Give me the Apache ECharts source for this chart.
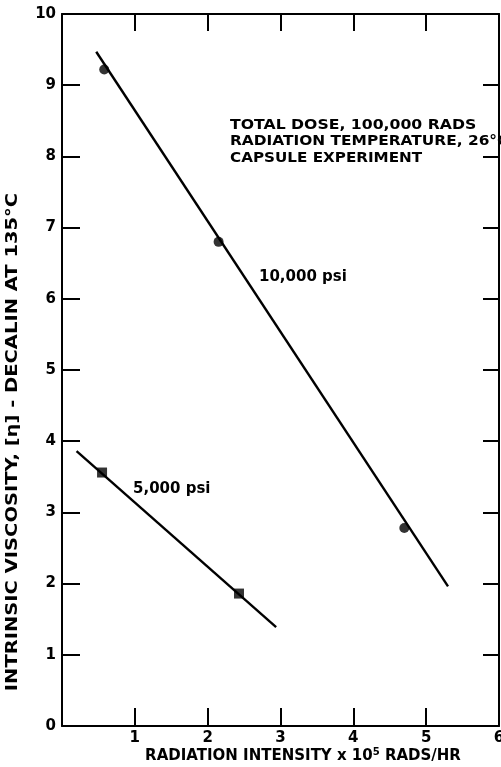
<!DOCTYPE html>
<html>
<head>
<meta charset="utf-8">
<script src="https://cdn.jsdelivr.net/npm/echarts@6/dist/echarts.min.js"></script>
<style>html,body{margin:0;padding:0;background:#fff}#c{width:501px;height:767px}</style>
</head>
<body>
<div id="c"></div>
<script>
// ---- data ----
const xTickValues = [0, 1, 2, 3, 4, 5, 6];
const yTickValues = [0, 1, 2, 3, 4, 5, 6, 7, 8, 9, 10];
// 10,000 psi measured points and fitted line ends
const p10X = [0.58, 2.15, 4.70];
const p10Y = [9.22, 6.80, 2.78];
const p10LineX = [0.47, 5.30];
const p10LineY = [9.47, 1.96];
// 5,000 psi measured points and fitted line ends
const p5X = [0.55, 2.43];
const p5Y = [3.56, 1.86];
const p5LineX = [0.20, 2.94];
const p5LineY = [3.86, 1.39];
const noteLines = ['TOTAL DOSE, 100,000 RADS', 'RADIATION TEMPERATURE, 26°C', 'CAPSULE EXPERIMENT'];

const zip = (a, b) => a.map((v, i) => [v, b[i]]);
const F = 'DejaVu Sans';
const noteScale = [1.12, 1.10, 1.085];
const chart = echarts.init(document.getElementById('c'), null, {renderer: 'canvas'});
const axisLine = {show: true, onZero: false, lineStyle: {color: '#000', width: 2}};
const tick = (len) => ({show: true, inside: true, length: len, lineStyle: {color: '#000', width: 2}});
const noteGraphics = noteLines.map((t, i) => ({
  type: 'text', x: 230, y: 118 + i * 16.5, scaleX: noteScale[i], z: -1,
  style: {text: t, fontFamily: F, fontSize: 14, fontWeight: 'bold', fill: '#000'}
}));
chart.setOption({
  animation: false,
  backgroundColor: '#fff',
  grid: {left: 62, right: 2, top: 14, bottom: 41, containLabel: false, outerBoundsMode: 'none'},
  xAxis: [
    {type: 'value', position: 'bottom', min: 0, max: 6, interval: 1,
     axisLine, axisTick: tick(18), splitLine: {show: false},
     axisLabel: {color: '#000', fontFamily: F, fontSize: 15, fontWeight: 'bold', margin: 5,
       showMinLabel: false, formatter: v => v === 0 ? '' : String(v)}},
    {type: 'value', position: 'top', min: 0, max: 6, interval: 1,
     axisLine, axisTick: tick(17), splitLine: {show: false}, axisLabel: {show: false}}
  ],
  yAxis: [
    {type: 'value', position: 'left', min: 0, max: 10, interval: 1,
     axisLine, axisTick: tick(18), splitLine: {show: false},
     axisLabel: {color: '#000', fontFamily: F, fontSize: 15, fontWeight: 'bold', margin: 6}},
    {type: 'value', position: 'right', min: 0, max: 10, interval: 1,
     axisLine, axisTick: tick(16), splitLine: {show: false}, axisLabel: {show: false}}
  ],
  series: [
    {type: 'line', name: '10,000 psi fit', data: zip(p10LineX, p10LineY), symbol: 'none',
     lineStyle: {color: '#000', width: 2.4}},
    {type: 'line', name: '5,000 psi fit', data: zip(p5LineX, p5LineY), symbol: 'none',
     lineStyle: {color: '#000', width: 2.4}},
    {type: 'scatter', name: '10,000 psi', data: zip(p10X, p10Y), symbol: 'circle', symbolSize: 10,
     itemStyle: {color: '#000'}},
    {type: 'scatter', name: '5,000 psi', data: zip(p5X, p5Y), symbol: 'rect', symbolSize: 10,
     itemStyle: {color: '#000'}}
  ],
  graphic: noteGraphics.concat([
    {type: 'text', x: 259, y: 270, style: {text: '10,000 psi', fontFamily: F, fontSize: 15,
      fontWeight: 'bold', fill: '#000'}},
    {type: 'text', x: 133, y: 482, style: {text: '5,000 psi', fontFamily: F, fontSize: 15,
      fontWeight: 'bold', fill: '#000'}},
    {type: 'text', x: 303, y: 756, style: {
      text: '{t|RADIATION INTENSITY x 10}{s|5}{t| RADS/HR}',
      rich: {t: {fontFamily: F, fontSize: 15, fontWeight: 'bold', fill: '#000'},
             s: {fontFamily: F, fontSize: 10, fontWeight: 'bold', fill: '#000', verticalAlign: 'top', padding: [0, 0, 8, 0]}},
      align: 'center', verticalAlign: 'middle'}},
    {type: 'text', x: 13, y: 442, rotation: Math.PI / 2, scaleX: 1.3, style: {
      text: 'INTRINSIC VISCOSITY, [η] - DECALIN AT 135°C', fontFamily: F, fontSize: 15, fontWeight: 'bold',
      fill: '#000', align: 'center', verticalAlign: 'middle'}}
  ])
});
</script>
</body>
</html>
